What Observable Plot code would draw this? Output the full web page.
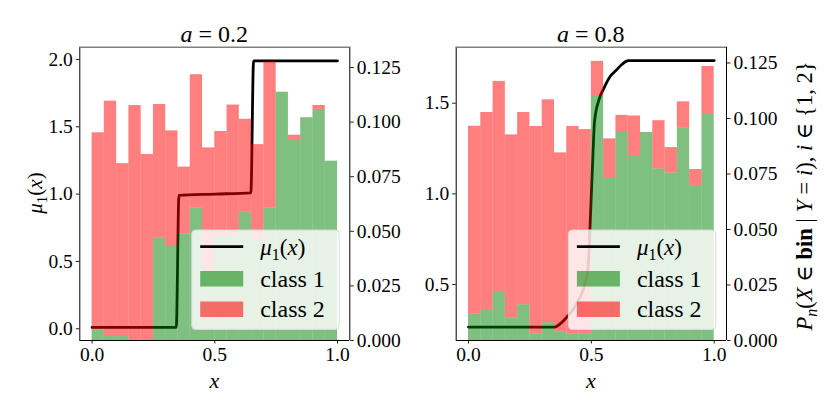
<!DOCTYPE html>
<html><head><meta charset="utf-8">
<script src="https://cdn.jsdelivr.net/npm/d3@7"></script>
<script src="https://cdn.jsdelivr.net/npm/@observablehq/plot@0.6"></script>
<style>
body{margin:0;background:#fff}
#root{position:relative;width:830px;height:415px;background:#fff}
#root svg{position:absolute;left:0;top:0;overflow:visible}
</style></head><body><div id="root"></div>
<script>
// bin lower edges (width 0.05)
const binStart = [0,0.05,0.1,0.15,0.2,0.25,0.3,0.35,0.4,0.45,0.5,0.55,0.6,0.65,0.7,0.75,0.8,0.85,0.9,0.95];
const binWidth = 0.05;

// panel a = 0.2
const class1A = [0.0049,0.0018,0.0018,0,0,0.0469,0.043,0.0488,0.0606,0.032,0.048,0.048,0.0588,0.0458,0.0606,0.1137,0.092,0.102,0.1058,0.0821];
const class2A = [0.0902,0.1078,0.0792,0.1076,0.0852,0.0612,0.053,0.0306,0.0611,0.0562,0.0477,0.0598,0.0425,0.0439,0.067,0,0.002,0,0.0018,0];
const muXA = [0,0.343,0.354,0.5,0.647,0.658,1.0];
const muA  = [0.01,0.01,0.99,1.0,1.01,1.99,1.99];

// panel a = 0.8
const class1B = [0.0119,0.0140,0.0221,0.0101,0.0161,0.003,0.008,0.0037,0.003,0.003,0.1099,0.0734,0.0937,0.0833,0.0937,0.0773,0.0754,0.0956,0.0694,0.1018];
const class2B = [0.0846,0.0887,0.0946,0.0825,0.0866,0.0934,0.1004,0.0808,0.0934,0.092,0.0158,0.0174,0.0077,0.0178,0,0.0217,0.0115,0.0119,0.0076,0.0216];
const muXB = [0,0.35,0.375,0.40,0.425,0.45,0.47,0.487,0.494,0.5,0.506,0.513,0.53,0.55,0.575,0.60,0.625,0.65,1.0];
const muB  = [0.265,0.265,0.285,0.32,0.36,0.42,0.485,0.60,0.80,1.0,1.20,1.40,1.515,1.58,1.645,1.68,1.715,1.735,1.735];

const xTicks = [0,0.5,1.0];
const probTicks = [0,0.025,0.05,0.075,0.1,0.125];
const muTicksA = [0,0.5,1.0,1.5,2.0];
const muTicksB = [0.5,1.0,1.5];
const titles = ["0.2","0.8"];
const classNames = ["class 1","class 2"];

const W = 830, H = 415, TOP = 46.7, BOTTOM = 340;
const FONT = "'Liberation Serif', 'DejaVu Serif', serif";
const panels = [
  {left:79.3, right:349.3, c1:class1A, c2:class2A, mx:muXA, mu:muA, muDom:[-0.087,2.091], pDom:[0,0.1343], muTicks:muTicksA, title:titles[0]},
  {left:455.7, right:726, c1:class1B, c2:class2B, mx:muXB, mu:muB, muDom:[0.191,1.809], pDom:[0,0.1321], muTicks:muTicksB, title:titles[1]}
];
const root = document.getElementById("root");

for (const p of panels) {
  const common = {
    width: W, height: H,
    marginLeft: p.left, marginRight: W - p.right, marginTop: TOP, marginBottom: H - BOTTOM,
    style: {background: "transparent", fontFamily: FONT, fontSize: "19.5px", color: "black"}
  };
  const mu = p.mx.map((x, i) => ({x, m: p.mu[i]}));
  const svg1 = Plot.plot({
    ...common,
    x: {domain: [-0.05, 1.05]},
    y: {domain: p.muDom},
    marks: [
      Plot.line(mu, {x: "x", y: "m", stroke: "black", strokeWidth: 2.8, curve: "monotone-x"}),
      Plot.axisX({ticks: xTicks, tickFormat: d3.format(".1f"), tickSize: 3.5, tickPadding: 3.5, label: null, strokeWidth: 0.9}),
      Plot.axisY({anchor: "left", ticks: p.muTicks, tickFormat: d3.format(".1f"), tickSize: 3.5, tickPadding: 3.5, label: null, strokeWidth: 0.9})
    ]
  });
  root.appendChild(svg1);

  const bars = [];
  binStart.forEach((b, i) => bars.push({x1: b, x2: b + binWidth, v: p.c1[i], cls: classNames[0]}));
  binStart.forEach((b, i) => bars.push({x1: b, x2: b + binWidth, v: p.c2[i], cls: classNames[1]}));
  const svg2 = Plot.plot({
    ...common,
    x: {domain: [-0.05, 1.05], axis: null},
    y: {domain: p.pDom, axis: null},
    color: {domain: classNames, range: ["green", "red"]},
    marks: [
      Plot.rectY(bars, Plot.stackY({x1: "x1", x2: "x2", y: "v", fill: "cls", fillOpacity: 0.5, inset: 0})),
      Plot.axisY({anchor: "right", ticks: probTicks, tickFormat: d3.format(".3f"), tickSize: 3.5, tickPadding: 3.5, label: null, strokeWidth: 0.9}),
      Plot.ruleX([-0.05, 1.05], {stroke: "black", strokeWidth: 1}),
      Plot.ruleY([p.pDom[0]], {stroke: "black", strokeWidth: 1}),
      Plot.ruleY([p.pDom[1]], {stroke: "#808080", strokeWidth: 1.6})
    ]
  });
  root.appendChild(svg2);
}

// overlay: titles, axis labels, legends
const ov = d3.select(root).append("svg").attr("width", W).attr("height", H)
  .style("font-family", FONT).style("overflow", "visible");

panels.forEach((p, k) => {
  const cx = (p.left + p.right) / 2;
  const t = ov.append("text").attr("x", cx).attr("y", 41.5).attr("text-anchor", "middle").attr("font-size", 24);
  t.append("tspan").attr("font-style", "italic").text("a");
  t.append("tspan").text(" = " + p.title);
  ov.append("text").attr("x", cx).attr("y", 388).attr("text-anchor", "middle").attr("font-size", 22)
    .attr("font-style", "italic").text("x");

  // legend
  const lx = p.right - 157.6, ly = 230, lw = 147.5, lh = 99.5;
  const g = ov.append("g");
  g.append("rect").attr("x", lx).attr("y", ly).attr("width", lw).attr("height", lh).attr("rx", 4)
    .attr("fill", "white").attr("fill-opacity", 0.8).attr("stroke", "#d8d8d8").attr("stroke-width", 1);
  const sx = lx + 8.5;
  g.append("line").attr("x1", sx).attr("x2", sx + 43).attr("y1", ly + 16.7).attr("y2", ly + 16.7)
    .attr("stroke", "black").attr("stroke-width", 2.8);
  g.append("rect").attr("x", sx).attr("y", ly + 41).attr("width", 43).attr("height", 15.5)
    .attr("fill", "green").attr("fill-opacity", 0.55);
  g.append("rect").attr("x", sx).attr("y", ly + 71.5).attr("width", 43).attr("height", 15.5)
    .attr("fill", "red").attr("fill-opacity", 0.55);
  const tx = sx + 60;
  const m = g.append("text").attr("x", tx).attr("y", ly + 24.5).attr("font-size", 23);
  m.append("tspan").attr("font-style", "italic").text("μ");
  m.append("tspan").attr("font-size", 16).attr("dy", 5).text("1");
  m.append("tspan").attr("dy", -5).text("(");
  m.append("tspan").attr("font-style", "italic").text("x");
  m.append("tspan").text(")");
  g.append("text").attr("x", tx).attr("y", ly + 56.5).attr("font-size", 24).text(classNames[0]);
  g.append("text").attr("x", tx).attr("y", ly + 86.5).attr("font-size", 24).text(classNames[1]);
});

// left y label
const yl = ov.append("text").attr("transform", "translate(42,193) rotate(-90)").attr("text-anchor", "middle")
  .attr("font-size", 21);
yl.append("tspan").attr("font-style", "italic").text("μ");
yl.append("tspan").attr("font-size", 15).attr("dy", 5).text("1");
yl.append("tspan").attr("dy", -5).text("(");
yl.append("tspan").attr("font-style", "italic").text("x");
yl.append("tspan").text(")");

// right y label
const yr = ov.append("text").attr("transform", "translate(812,196) rotate(-90)").attr("text-anchor", "middle")
  .attr("font-size", 22.5);
yr.append("tspan").attr("font-style", "italic").text("P");
yr.append("tspan").attr("font-style", "italic").attr("font-size", 16).attr("dy", 5).text("n");
yr.append("tspan").attr("dy", -5).text("(");
yr.append("tspan").attr("font-style", "italic").text("X");
yr.append("tspan").text(" ∈ ");
yr.append("tspan").attr("font-weight", "bold").text("bin");
yr.append("tspan").text(" | ");
yr.append("tspan").attr("font-style", "italic").text("Y");
yr.append("tspan").text(" = ");
yr.append("tspan").attr("font-style", "italic").text("i");
yr.append("tspan").text("), ");
yr.append("tspan").attr("font-style", "italic").text("i");
yr.append("tspan").text(" ∈ {1, 2}");
</script></body></html>
